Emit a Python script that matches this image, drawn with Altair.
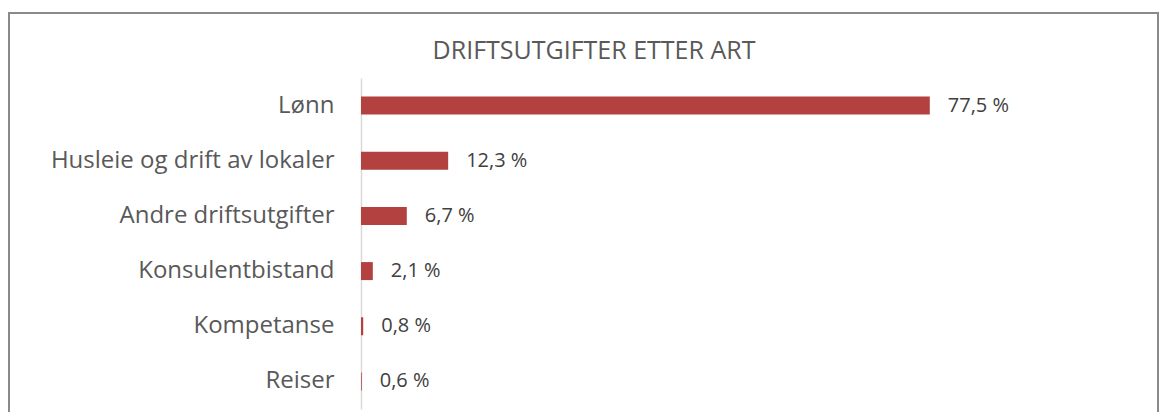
import altair as alt
import pandas as pd

categories = ["Lønn", "Husleie og drift av lokaler", "Andre driftsutgifter",
              "Konsulentbistand", "Kompetanse", "Reiser"]
values = [77.5, 12.3, 6.7, 2.1, 0.8, 0.6]
title_text = "DRIFTSUTGIFTER ETTER ART"

df = pd.DataFrame({"kategori": categories, "andel": values})

FONT = "Open Sans"
BAR = "#B3413F"

x_scale = alt.Scale(domain=[0.5, 100], nice=False, zero=False, clamp=True)
y_enc = alt.Y("kategori:N", sort=categories,
              scale=alt.Scale(paddingInner=0.0, paddingOuter=0.0),
              axis=alt.Axis(title=None, ticks=False, domain=True,
                            domainColor="#D9D9D9", domainWidth=1.5,
                            labelFont=FONT, labelFontSize=24,
                            labelColor="#595959", labelPadding=27,
                            labelLimit=400, grid=False))

base = alt.Chart(df)

bars = base.mark_bar(color=BAR, size=18).encode(
    x=alt.X("andel:Q", scale=x_scale, axis=None),
    y=y_enc,
)

labels = base.mark_text(align="left", baseline="middle", dx=18,
                        font=FONT, fontSize=20, color="#404040").encode(
    x=alt.X("andel:Q", scale=x_scale, axis=None),
    y=alt.Y("kategori:N", sort=categories),
    text=alt.Text("lbl:N"),
).transform_calculate(
    lbl="replace(format(datum.andel, '.1f'), '.', ',') + ' %'"
)

frame = alt.Chart(pd.DataFrame({"a": [0]})).mark_rect(
    filled=False, stroke="#8A8A8A", strokeWidth=2
).encode(
    x=alt.value(-352), x2=alt.value(797),
    y=alt.value(-65), y2=alt.value(360),
)

title_mark = alt.Chart(pd.DataFrame({"t": [title_text]})).mark_text(
    font=FONT, fontSize=25, color="#595959", align="center", baseline="alphabetic"
).encode(
    x=alt.value(233), y=alt.value(-19), text="t:N"
)

chart = alt.layer(frame, bars, labels, title_mark).properties(
    width=735, height=331,
    autosize=alt.AutoSizeParams(type="none"),
    padding={"left": 353, "top": 70, "right": 63, "bottom": 3},
).configure(background="white").configure_view(strokeOpacity=0, strokeWidth=0)

chart.save("out.html", embed_options={"renderer": "svg", "actions": False})
